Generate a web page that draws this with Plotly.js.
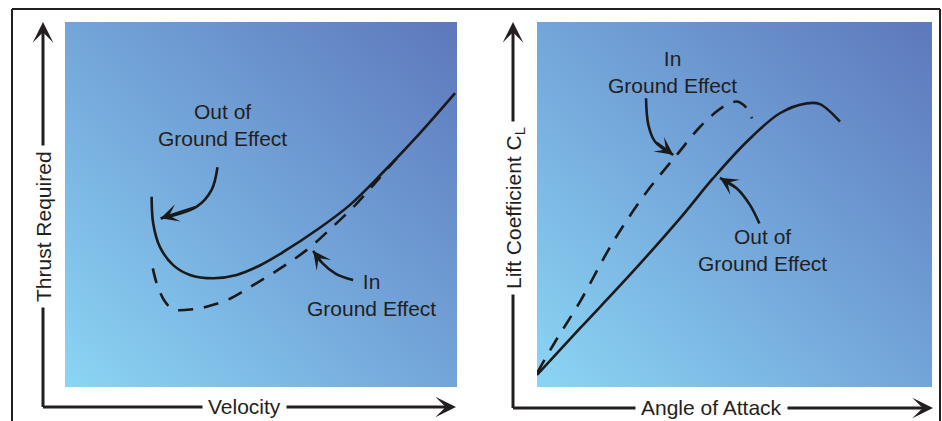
<!DOCTYPE html>
<html>
<head>
<meta charset="utf-8">
<script src="https://cdn.plot.ly/plotly-3.0.1.min.js"></script>
<style>
  html, body { margin: 0; padding: 0; background: #fff; }
  #chart { width: 942px; height: 421px; }
</style>
</head>
<body>
<div id="chart"></div>
<script>
// left panel: thrust required vs velocity (arbitrary units 0-100)
const velOut = [22.1, 22.5, 24.2, 27.6, 31.9, 37.8, 43.8, 49.7, 55.7, 64.2, 72.7, 81.2, 90.1, 99.5];
const thrustOut = [52.1, 44.8, 38.4, 33.4, 30.7, 29.8, 30.7, 33.3, 37.0, 43.0, 49.9, 58.9, 69.0, 80.5];
const velIn = [22.4, 23.4, 25.5, 27.6, 32.7, 36.1, 41.3, 48.0, 55.8, 62.2, 68.3, 74.1, 79.6, 84.6];
const thrustIn = [32.5, 28.4, 23.4, 21.3, 21.3, 22.0, 23.8, 27.9, 33.1, 38.0, 43.9, 49.9, 56.5, 62.6];

// right panel: lift coefficient vs angle of attack
const aoaOut = [0, 10.9, 23.5, 36.2, 44.6, 53.1, 61.5, 68.3, 71.6, 76.7];
const liftOut = [3.3, 16.1, 30.7, 46.2, 57.2, 67.2, 75.0, 77.7, 77.5, 72.7];
const aoaIn = [0, 4.6, 10.9, 19.3, 27.8, 35.4, 41.3, 47.2, 50.6, 53.1, 54.4];
const liftIn = [3.8, 12.4, 23.4, 39.8, 53.5, 63.6, 71.3, 76.8, 78.2, 76.4, 73.6];

// curved pointer arrows (tail ... tip)
const ptrLeftOutX = [38.9, 37.4, 33.6, 24.4], ptrLeftOutY = [60.2, 54.0, 49.4, 46.2];
const ptrLeftInX = [73.5, 69.1, 65.6, 63.3], ptrLeftInY = [29.3, 31.0, 34.0, 37.3];
const ptrRightInX = [27.6, 28.2, 29.9, 34.5], ptrRightInY = [79.1, 71.8, 67.2, 63.6];
const ptrRightOutX = [56.3, 53.9, 50.6, 46.3], ptrRightOutY = [44.8, 49.9, 54.4, 57.3];

const labelOut = 'Out of<br>Ground Effect';
const labelIn = 'In<br>Ground Effect';

const W = 942, H = 421;
const px = v => v / W;
const py = v => 1 - v / H;
const ink = '#231f20';
const font = {family: '"Liberation Sans", Arial, sans-serif', size: 21, color: ink};

const gradient = 'data:image/svg+xml;charset=utf-8,' + encodeURIComponent(
  "<svg xmlns='http://www.w3.org/2000/svg' width='100' height='100' preserveAspectRatio='none'>" +
  "<defs><linearGradient id='g' x1='0' y1='1' x2='1' y2='0'>" +
  "<stop offset='0' stop-color='#8bd5f4'/><stop offset='0.5' stop-color='#73a5d9'/>" +
  "<stop offset='1' stop-color='#5d78bc'/></linearGradient></defs>" +
  "<rect width='100' height='100' fill='url(#g)'/></svg>");

const curve = (x, y, xa, ya, dash) => ({
  x: x, y: y, xaxis: xa, yaxis: ya, type: 'scatter', mode: 'lines',
  line: {color: '#1b1a1a', width: 2.6, shape: 'spline', dash: dash || 'solid'},
  hoverinfo: 'skip', showlegend: false,
});

const traces = [
  curve(velOut, thrustOut, 'x', 'y'),
  curve(velIn, thrustIn, 'x', 'y', '15px,11px'),
  curve(aoaOut, liftOut, 'x2', 'y2'),
  curve(aoaIn, liftIn, 'x2', 'y2', '15px,11px'),
  curve(ptrLeftOutX, ptrLeftOutY, 'x', 'y'),
  curve(ptrLeftInX, ptrLeftInY, 'x', 'y'),
  curve(ptrRightInX, ptrRightInY, 'x2', 'y2'),
  curve(ptrRightOutX, ptrRightOutY, 'x2', 'y2'),
];

// arrowhead at the tip of each pointer
const head = (xs, ys, xr, yr) => ({
  x: xs[xs.length - 1], y: ys[ys.length - 1], ax: xs[xs.length - 2], ay: ys[ys.length - 2],
  xref: xr, yref: yr, axref: xr, ayref: yr, text: '', showarrow: true,
  arrowhead: 3, arrowsize: 1.2, arrowwidth: 2.5, arrowcolor: '#1b1a1a', standoff: 0,
});

// axis arrows drawn in pixels
const axisArrow = (x0, y0, x1, y1) => ({
  xref: 'paper', yref: 'paper', x: px(x1), y: py(y1), ax: x0 - x1, ay: y0 - y1,
  text: '', showarrow: true, arrowhead: 3, arrowsize: 1.15, arrowwidth: 3,
  arrowcolor: ink, standoff: 0,
});

const axisLabel = (text, x, y, angle) => ({
  xref: 'paper', yref: 'paper', x: px(x), y: py(y), xanchor: 'center', yanchor: 'middle',
  text: text, textangle: angle || 0, showarrow: false, font: font,
  bgcolor: '#ffffff', borderpad: 5,
});

const noteLabel = (text, x, y, xr, yr) => ({
  xref: xr, yref: yr, x: x, y: y, xanchor: 'center', yanchor: 'middle',
  text: text, showarrow: false, font: font, align: 'center',
});

const hidden = (domain, anchor) => ({
  domain: domain, range: [0, 100], visible: false, fixedrange: true, anchor: anchor,
});

const layout = {
  width: W, height: H,
  margin: {l: 0, r: 0, t: 0, b: 0},
  paper_bgcolor: '#ffffff',
  plot_bgcolor: 'rgba(0,0,0,0)',
  xaxis: hidden([px(65), px(457)], 'y'),
  yaxis: hidden([py(387), py(22)], 'x'),
  xaxis2: hidden([px(537), px(932)], 'y2'),
  yaxis2: hidden([py(387), py(22)], 'x2'),
  images: [
    {source: gradient, xref: 'paper', yref: 'paper', x: px(65), y: py(22),
     sizex: px(457) - px(65), sizey: py(22) - py(387), sizing: 'stretch', layer: 'below'},
    {source: gradient, xref: 'paper', yref: 'paper', x: px(537), y: py(22),
     sizex: px(932) - px(537), sizey: py(22) - py(387), sizing: 'stretch', layer: 'below'},
  ],
  shapes: [
    {type: 'line', xref: 'paper', yref: 'paper', x0: px(12), x1: px(940), y0: py(9), y1: py(9), line: {color: ink, width: 2}},
    {type: 'line', xref: 'paper', yref: 'paper', x0: px(12), x1: px(12), y0: py(9), y1: py(421), line: {color: ink, width: 2}},
    {type: 'line', xref: 'paper', yref: 'paper', x0: px(940), x1: px(940), y0: py(9), y1: py(421), line: {color: ink, width: 2}},
  ],
  annotations: [
    axisArrow(43, 408.5, 43, 22),
    axisArrow(41.5, 407, 456, 407),
    axisArrow(513, 409.5, 513, 22),
    axisArrow(511.5, 408, 933, 408),
    axisLabel('Thrust Required', 43, 227, -90),
    axisLabel('Velocity', 244, 406),
    axisLabel('Lift Coefficient C<sub>L</sub>', 515, 208, -90),
    axisLabel('Angle of Attack', 711, 407),
    noteLabel(labelOut, 40.3, 71.9, 'x', 'y'),
    noteLabel(labelIn, 78.3, 25.2, 'x', 'y'),
    noteLabel(labelIn, 34.2, 86.3, 'x2', 'y2'),
    noteLabel(labelOut, 57.2, 37.4, 'x2', 'y2'),
    head(ptrLeftOutX, ptrLeftOutY, 'x', 'y'),
    head(ptrLeftInX, ptrLeftInY, 'x', 'y'),
    head(ptrRightInX, ptrRightInY, 'x2', 'y2'),
    head(ptrRightOutX, ptrRightOutY, 'x2', 'y2'),
  ],
  hovermode: false,
  showlegend: false,
};

Plotly.newPlot('chart', traces, layout, {staticPlot: true, displayModeBar: false});
</script>
</body>
</html>
